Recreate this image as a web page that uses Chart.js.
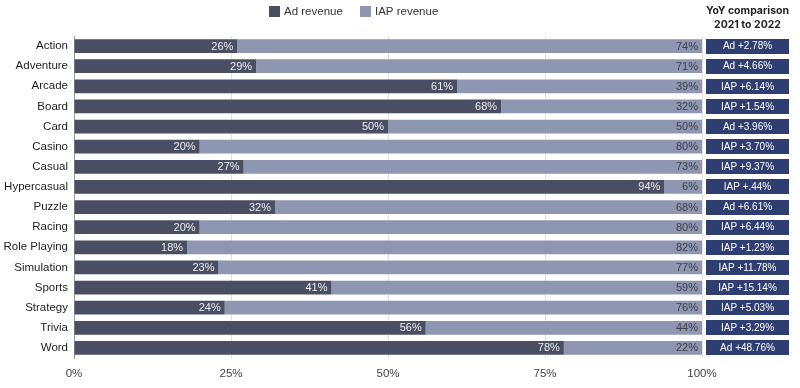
<!DOCTYPE html>
<html>
<head>
<meta charset="utf-8">
<style>
  html, body { margin: 0; padding: 0; background: #fff; }
  #wrap { width: 800px; height: 388px; position: relative; }
</style>
<script src="https://cdn.jsdelivr.net/npm/chart.js@4.4.0/dist/chart.umd.min.js"></script>
</head>
<body>
<div id="wrap"><canvas id="revChart"></canvas></div>
<script>
// Genres and revenue split (share of total, %)
const genres = ['Action', 'Adventure', 'Arcade', 'Board', 'Card', 'Casino', 'Casual', 'Hypercasual',
  'Puzzle', 'Racing', 'Role Playing', 'Simulation', 'Sports', 'Strategy', 'Trivia', 'Word'];
const adShare = [26, 29, 61, 68, 50, 20, 27, 94, 32, 20, 18, 23, 41, 24, 56, 78];
const iapShare = [74, 71, 39, 32, 50, 80, 73, 6, 68, 80, 82, 77, 59, 76, 44, 22];
const yoyText = ['Ad +2.78%', 'Ad +4.66%', 'IAP +6.14%', 'IAP +1.54%', 'Ad +3.96%', 'IAP +3.70%',
  'IAP +9.37%', 'IAP +.44%', 'Ad +6.61%', 'IAP +6.44%', 'IAP +1.23%', 'IAP +11.78%',
  'IAP +15.14%', 'IAP +5.03%', 'IAP +3.29%', 'Ad +48.76%'];
const xTicks = [0, 25, 50, 75, 100];

const AD_COLOR = '#4a4e62';
const IAP_COLOR = '#8e96b2';
const YOY_COLOR = '#2f3e70';
const FONT = '"Liberation Sans", Arial, sans-serif';

// value labels at the end of each segment, legend and YoY column
const extrasPlugin = {
  id: 'extras',
  afterDatasetsDraw(chart) {
    const ctx = chart.ctx;
    const area = chart.chartArea;
    const yScale = chart.scales.y;
    ctx.save();
    ctx.font = '11px ' + FONT;
    ctx.textBaseline = 'middle';
    ctx.textAlign = 'right';
    chart.data.datasets.forEach(function(ds, di) {
      const meta = chart.getDatasetMeta(di);
      meta.data.forEach(function(bar, i) {
        ctx.fillStyle = di === 0 ? '#eeeef2' : '#3d3f4a';
        ctx.fillText(ds.data[i] + '%', bar.x - 4, bar.y + 0.5);
      });
    });

    // YoY boxes
    const boxLeft = area.right + 4;
    const boxW = 83;
    const boxH = 15;
    ctx.textAlign = 'center';
    ctx.font = '10px ' + FONT;
    yoyText.forEach(function(t, i) {
      const y = yScale.getPixelForValue(i);
      ctx.fillStyle = YOY_COLOR;
      ctx.fillRect(boxLeft, Math.round(y - boxH / 2), boxW, boxH);
      ctx.fillStyle = '#ffffff';
      ctx.fillText(t, boxLeft + boxW / 2, y + 0.5);
    });

    // YoY header
    ctx.fillStyle = '#1e1e24';
    ctx.font = 'bold 10.5px Inter, ' + FONT;
    ctx.fillText('YoY comparison', boxLeft + boxW / 2, 11);
    ctx.fillText('2021 to 2022', boxLeft + boxW / 2, 25);

    // Legend
    ctx.font = '11.5px ' + FONT;
    ctx.textAlign = 'left';
    const items = [
      { label: 'Ad revenue', color: AD_COLOR, x: 269 },
      { label: 'IAP revenue', color: IAP_COLOR, x: 360 }
    ];
    items.forEach(function(it) {
      ctx.fillStyle = it.color;
      ctx.fillRect(it.x, 6, 11, 11);
      ctx.fillStyle = '#333';
      ctx.fillText(it.label, it.x + 15, 12);
    });
    ctx.restore();
  }
};

const ctx = document.getElementById('revChart').getContext('2d');
new Chart(ctx, {
  type: 'bar',
  data: {
    labels: genres,
    datasets: [
      {
        label: 'Ad revenue',
        data: adShare,
        backgroundColor: AD_COLOR,
        borderWidth: 0,
        categoryPercentage: 1,
        barPercentage: 0.68
      },
      {
        label: 'IAP revenue',
        data: iapShare,
        backgroundColor: IAP_COLOR,
        borderWidth: 0,
        categoryPercentage: 1,
        barPercentage: 0.68
      }
    ]
  },
  options: {
    indexAxis: 'y',
    responsive: true,
    maintainAspectRatio: false,
    animation: false,
    layout: { padding: { top: 36, right: 98, left: 0, bottom: 0 } },
    plugins: {
      legend: { display: false },
      tooltip: { enabled: false }
    },
    scales: {
      x: {
        stacked: true,
        min: 0,
        max: 100,
        afterBuildTicks: function(scale) {
          scale.ticks = xTicks.map(function(v) { return { value: v }; });
        },
        afterFit: function(scale) { scale.height = 30; },
        grid: { color: '#e2e2e6', drawTicks: false, lineWidth: 1 },
        border: { display: false },
        ticks: {
          padding: 9,
          color: '#444',
          font: { family: FONT, size: 11.5 },
          callback: function(v) { return v + '%'; }
        }
      },
      y: {
        stacked: true,
        afterFit: function(scale) { scale.width = 74; },
        grid: { display: false, drawTicks: false },
        border: { display: true, color: '#9a9aa2', width: 1 },
        ticks: {
          padding: 6,
          color: '#1e1e22',
          font: { family: FONT, size: 11.5 }
        }
      }
    }
  },
  plugins: [extrasPlugin]
});
</script>
</body>
</html>
